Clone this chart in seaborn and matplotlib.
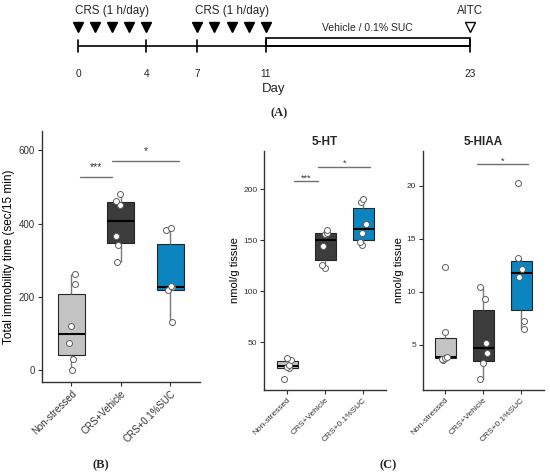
import numpy as np
import pandas as pd
import matplotlib
matplotlib.use("Agg")
import matplotlib.pyplot as plt
import seaborn as sns
from matplotlib.patches import Rectangle

# ---------------- data ----------------
groups = ["Non-stressed", "CRS+Vehicle", "CRS+0.1%SUC"]
box_colors = ["#c3c3c3", "#3c3c3c", "#0b84c0"]

immob_ns = [0, 30, 75, 122, 236, 262]
immob_veh = [296, 341, 367, 450, 461, 480]
immob_suc = [131, 218, 226, 230, 382, 388]

ht_ns = [13.7, 24.5, 26, 28, 32.5, 35]
ht_veh = [123, 126, 144, 156, 157, 160]
ht_suc = [145, 147.7, 156.5, 165.4, 187.2, 189.8]

hiaa_ns = [3.6, 3.7, 3.8, 3.9, 6.2, 12.35]
hiaa_veh = [1.82, 3.27, 4.2, 5.16, 9.37, 10.44]
hiaa_suc = [6.48, 7.26, 11.44, 12.14, 13.18, 20.3]

# significance brackets: (x1, x2, y, label)
sig_b = [(0.18, 0.82, 528, "***"), (0.82, 2.18, 570, "*")]
sig_ht = [(0.18, 0.82, 208, "***"), (0.82, 2.18, 222, "*")]
sig_hiaa = [(0.82, 2.18, 22.1, "*")]

# timeline
crs_days = [0, 1, 2, 3, 4, 7, 8, 9, 10, 11]
day_ticks = [0, 4, 7, 11, 23]
treat_start, treat_end = 11, 23
aitc_day = 23

# ---------------- style ----------------
sns.set_style("ticks")
plt.rcParams["font.family"] = ["Liberation Sans", "DejaVu Sans"]
plt.rcParams["axes.edgecolor"] = "#333333"
plt.rcParams["xtick.color"] = "#333333"
plt.rcParams["ytick.color"] = "#333333"

W, H = 550, 474
fig = plt.figure(figsize=(5.5, 4.74), dpi=100)


def fx(px):
    return px / W


def fy(py):
    return 1 - py / H


# ---------------- timeline (A) ----------------
axt = fig.add_axes([0, fy(100), 1, 100 / H])
px_per_day = (470 - 78.2) / 23
axt.set_xlim(-78.2 / px_per_day, (W - 78.2) / px_per_day)
axt.set_ylim(100, 0)
axt.axis("off")
line_y = 45.6
axt.plot([day_ticks[0], day_ticks[-1]], [line_y, line_y], color="black", lw=1.2,
         solid_capstyle="butt")
for d in day_ticks:
    axt.plot([d, d], [line_y - 6, line_y + 6], color="black", lw=1.2)
    axt.text(d, 74.4, str(d), ha="center", va="center", fontsize=7.3)
axt.add_patch(Rectangle((treat_start, line_y - 7.7), treat_end - treat_start, 7.7,
                        facecolor="white", edgecolor="black", lw=1.2))
axt.plot(crs_days, [27] * len(crs_days), linestyle="none", marker="v",
         markersize=7.8, color="black")
axt.plot([aitc_day], [27], linestyle="none", marker="v", markersize=7.8,
         markerfacecolor="white", markeredgecolor="black", markeredgewidth=1.0)
axt.text(np.mean(crs_days[:5]), 11.2, "CRS (1 h/day)", ha="center", va="center", fontsize=8.4)
axt.text(np.mean(crs_days[5:]), 11.2, "CRS (1 h/day)", ha="center", va="center", fontsize=8.4)
axt.text(aitc_day, 11.2, "AITC", ha="center", va="center", fontsize=8.3)
axt.text((treat_start + treat_end) / 2, 28, "Vehicle / 0.1% SUC", ha="center",
         va="center", fontsize=7.5)
axt.text((day_ticks[0] + day_ticks[-1]) / 2, 89.4, "Day", ha="center", va="center",
         fontsize=9.5)

# ---------------- box panels ----------------

def make_df(a, b, c):
    return pd.DataFrame({"group": np.repeat(groups, [len(a), len(b), len(c)]),
                         "value": np.concatenate([a, b, c])})


def panel(rect, df, ylim, yticks, ylabel, tick_fs, label_fs, labelpad, sigs,
          star_fs, star_dy, title=None):
    ax = fig.add_axes(rect)
    sns.boxplot(data=df, x="group", y="value", hue="group", order=groups,
                hue_order=groups, palette=box_colors, saturation=1, width=0.55,
                showfliers=False, showcaps=False, legend=False, ax=ax,
                boxprops=dict(edgecolor="#262626", linewidth=0.8),
                whiskerprops=dict(color="#7a7a7a", linewidth=1.0),
                medianprops=dict(color="black", linewidth=1.5))
    sns.stripplot(data=df, x="group", y="value", order=groups, jitter=0.1, size=4.3,
                  color="white", edgecolor="#606060", linewidth=0.7, ax=ax, zorder=5)
    for x1, x2, y, txt in sigs:
        ax.plot([x1, x2], [y, y], color="#707070", lw=1.0, clip_on=False)
        ax.annotate(txt, xy=((x1 + x2) / 2, y), xytext=(0, star_dy),
                    textcoords="offset points", ha="center", va="baseline",
                    fontsize=star_fs, color="#333333", annotation_clip=False)
    ax.set_xlim(-0.6, 2.6)
    ax.set_ylim(*ylim)
    ax.set_yticks(yticks)
    ax.set_xticks(range(len(groups)))
    ax.set_xticklabels(groups, rotation=45, ha="right", va="top",
                       rotation_mode="anchor", fontsize=tick_fs, color="#333333")
    ax.tick_params(axis="y", labelsize=tick_fs, labelcolor="#333333")
    ax.tick_params(length=2.6, width=0.8, pad=2.2)
    ax.set_xlabel("")
    ax.set_ylabel(ylabel, fontsize=label_fs, labelpad=labelpad, color="black")
    for s in ["top", "right"]:
        ax.spines[s].set_visible(False)
    for s in ["left", "bottom"]:
        ax.spines[s].set_linewidth(1.0)
        ax.spines[s].set_color("#333333")
    if title:
        ax.set_title(title, fontsize=8.5, fontweight="bold", pad=4)
    return ax


np.random.seed(3)
panel([fx(41.7), fy(382), fx(200 - 41.7), (382 - 131) / H],
      make_df(immob_ns, immob_veh, immob_suc), (-32, 653), [0, 200, 400, 600],
      "Total immobility time (sec/15 min)", 7, 8.5, 2.4, sig_b, 7.5, 5)

np.random.seed(7)
panel([fx(264.3), fy(390), fx(386 - 264.3), (390 - 150.7) / H],
      make_df(ht_ns, ht_veh, ht_suc), (3.3, 237.5), [50, 100, 150, 200],
      "nmol/g tissue", 6, 8, 2.4, sig_ht, 6.5, 0.3, title="5-HT")

np.random.seed(11)
panel([fx(422.7), fy(389.5), fx(544 - 422.7), (389.5 - 150.7) / H],
      make_df(hiaa_ns, hiaa_veh, hiaa_suc), (0.8, 23.33), [5, 10, 15, 20],
      "nmol/g tissue", 6, 8, 1.5, sig_hiaa, 6.5, 0.3, title="5-HIAA")

# ---------------- panel labels ----------------
for txt, x, y in [("(A)", 278.8, 113.5), ("(B)", 101, 465), ("(C)", 388.3, 465)]:
    fig.text(fx(x), fy(y), txt, ha="center", va="center", fontsize=9,
             fontweight="bold", family=["Liberation Serif", "DejaVu Serif"])

fig.savefig("out.png", dpi=100)
